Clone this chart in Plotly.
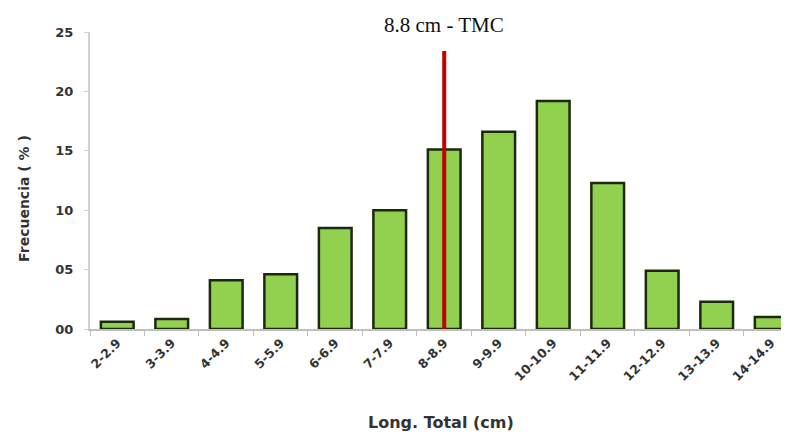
import plotly.graph_objects as go

categories = ["2-2.9", "3-3.9", "4-4.9", "5-5.9", "6-6.9", "7-7.9", "8-8.9",
              "9-9.9", "10-10.9", "11-11.9", "12-12.9", "13-13.9", "14-14.9"]
frecuencia = [0.6, 0.85, 4.1, 4.6, 8.5, 10.0, 15.1, 16.6, 19.2, 12.3, 4.9, 2.3, 1.0]
y_tickvals = [0, 5, 10, 15, 20, 25]
y_ticktext = ["00", "05", "10", "15", "20", "25"]
tmc_category = "8-8.9"
tmc_line_y = [0, 23.4]
tmc_label = "8.8 cm - TMC"
x_title = "Long. Total (cm)"
y_title = "Frecuencia ( % )"

sans = "DejaVu Sans, Verdana, sans-serif"

fig = go.Figure()
fig.add_trace(go.Bar(
    x=categories, y=frecuencia,
    marker=dict(color="#92D050", line=dict(color="#1B2A0C", width=2.5)),
    width=0.6,
    showlegend=False,
))
fig.add_trace(go.Scatter(
    x=[tmc_category, tmc_category], y=tmc_line_y, mode="lines",
    line=dict(color="#C00000", width=4), showlegend=False,
))
fig.add_annotation(
    x=tmc_category, y=1.025, xref="x", yref="paper", text=tmc_label,
    showarrow=False, yanchor="middle",
    font=dict(family="Liberation Serif, DejaVu Serif, serif", size=21, color="#111111"),
)
fig.add_annotation(
    x=0.508, y=-0.315, xref="paper", yref="paper", text=x_title,
    showarrow=False, xanchor="center", yanchor="middle",
    font=dict(family=sans, size=16, color="#333333", weight="bold"),
)
fig.add_annotation(
    x=-0.0955, y=0.438, xref="paper", yref="paper", text=y_title,
    showarrow=False, xanchor="center", yanchor="middle", textangle=-90,
    font=dict(family=sans, size=14, color="#333333", weight="bold"),
)

fig.update_layout(
    width=773, height=426,
    margin=dict(l=82, r=0, t=24, b=105),
    paper_bgcolor="white", plot_bgcolor="white",
    xaxis=dict(
        type="category", range=[-0.5, 12.18], automargin=False,
        showline=True, linecolor="#BFBFBF", linewidth=1.5,
        ticks="outside", tickson="boundaries", ticklen=5, tickcolor="#BFBFBF",
        tickangle=-45,
        tickfont=dict(family=sans, size=12.5, color="#333333", weight="bold"),
        showgrid=False,
    ),
    yaxis=dict(
        range=[0, 25], tickvals=y_tickvals, ticktext=y_ticktext, automargin=False,
        showline=True, linecolor="#D0D0D0", linewidth=2,
        ticks="outside", ticklen=4, tickcolor="#D0D0D0", ticklabelstandoff=8,
        tickfont=dict(family=sans, size=13, color="#333333", weight="bold"),
        showgrid=False, zeroline=False,
    ),
    bargap=0.4,
)

fig.write_html("out.html")
